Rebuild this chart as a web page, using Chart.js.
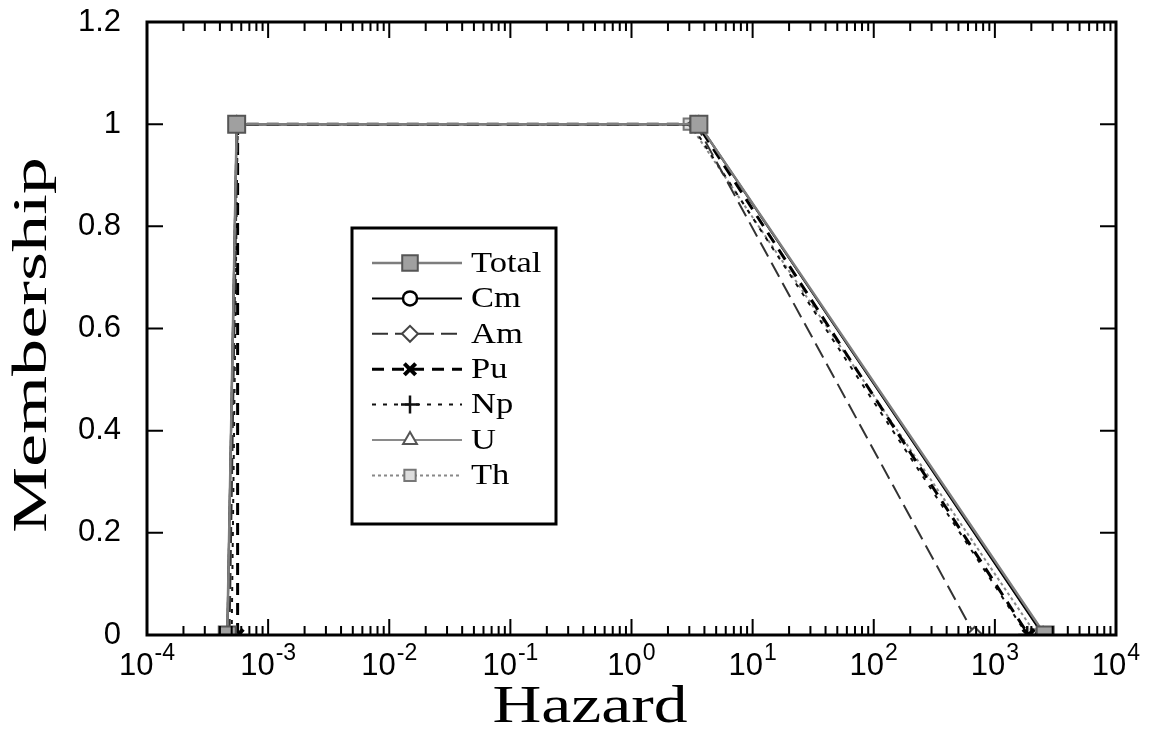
<!DOCTYPE html>
<html>
<head>
<meta charset="utf-8">
<title>Membership vs Hazard</title>
<script src="https://cdn.jsdelivr.net/npm/chart.js@4/dist/chart.umd.min.js"></script>
<style>
  html, body { margin: 0; padding: 0; background: #fff; }
  #wrap { width: 1154px; height: 743px; position: relative; }
</style>
</head>
<body>
<div id="wrap"><canvas id="hazardChart" width="1154" height="743"></canvas></div>
<script>
// dữ liệu (x = Hazard, y = Membership)
const seriesNames = ['Total', 'Cm', 'Am', 'Pu', 'Np', 'U', 'Th'];
const membership = [0, 1, 1, 0];

const totalHazard = [4.6e-4, 5.5e-4, 3.6, 2600];
const cmHazard    = [4.6e-4, 5.5e-4, 3.6, 2500];
const amHazard    = [4.8e-4, 5.6e-4, 3.4, 680];
const puHazard    = [5.6e-4, 5.6e-4, 3.5, 1900];
const npHazard    = [5.0e-4, 5.6e-4, 3.1, 1850];
const uHazard     = [4.6e-4, 5.5e-4, 3.6, 2500];
const thHazard    = [4.6e-4, 5.5e-4, 3.0, 2200];

const xDecades = [-4, -3, -2, -1, 0, 1, 2, 3, 4];   // nhãn trục X 10^n
const yTicks = [0, 0.2, 0.4, 0.6, 0.8, 1, 1.2];

function toPoints(xs, ys) {
    return xs.map((x, i) => ({ x: x, y: ys[i] }));
}

// kiểu vẽ của từng chuỗi
const styles = {
    Total: { color: '#7d7d7d', width: 2.5, dash: [],      point: 'rect',     radius: 12, fill: '#a0a0a0', pointBorder: '#555', pbw: 2 },
    Cm:    { color: '#000',    width: 2,   dash: [],      point: 'circle',   radius: 7,  fill: '#fff',    pointBorder: '#000', pbw: 2.5 },
    Am:    { color: '#333',    width: 2,   dash: [16, 7], point: 'rectRot',  radius: 8,  fill: '#fff',    pointBorder: '#444', pbw: 2 },
    Pu:    { color: '#000',    width: 3,   dash: [12, 8], point: 'crossRot', radius: 8,  fill: '#000',    pointBorder: '#000', pbw: 4 },
    Np:    { color: '#111',    width: 2,   dash: [4, 7],  point: 'cross',    radius: 9,  fill: '#000',    pointBorder: '#111', pbw: 2.5 },
    U:     { color: '#8a8a8a', width: 2,   dash: [],      point: 'triangle', radius: 8,  fill: '#fff',    pointBorder: '#555', pbw: 2 },
    Th:    { color: '#888',    width: 2,   dash: [3, 3],  point: 'rect',     radius: 8,  fill: '#ddd',    pointBorder: '#777', pbw: 2 }
};

const hazardBySeries = {
    Total: totalHazard, Cm: cmHazard, Am: amHazard, Pu: puHazard,
    Np: npHazard, U: uHazard, Th: thHazard
};

const datasets = seriesNames.map(name => {
    const s = styles[name];
    return {
        label: name,
        data: toPoints(hazardBySeries[name], membership),
        showLine: true,
        borderColor: s.color,
        borderWidth: s.width,
        borderDash: s.dash,
        pointStyle: s.point,
        pointRadius: s.radius,
        pointHoverRadius: s.radius,
        pointBackgroundColor: s.fill,
        pointBorderColor: s.pointBorder,
        pointBorderWidth: s.pbw,
        tension: 0
    };
});

// chữ số mũ dạng nhỏ
function drawPower(ctx, px, baselineY, exp) {
    const base = '10';
    const sup = exp < 0 ? '-' + Math.abs(exp) : String(exp);
    ctx.font = '31px "Liberation Sans", Arial, sans-serif';
    const wb = ctx.measureText(base).width;
    ctx.font = '23px "Liberation Sans", Arial, sans-serif';
    const ws = ctx.measureText(sup).width;
    const start = px - (wb + ws + 1) / 2;
    ctx.textAlign = 'left';
    ctx.textBaseline = 'alphabetic';
    ctx.font = '31px "Liberation Sans", Arial, sans-serif';
    ctx.fillText(base, start, baselineY);
    ctx.font = '23px "Liberation Sans", Arial, sans-serif';
    ctx.fillText(sup, start + wb + 1, baselineY - 15);
}

// khung, vạch chia hướng vào trong, nhãn trục X, tiêu đề, chú giải
const framePlugin = {
    id: 'framePlugin',
    afterDraw(chart) {
        const ctx = chart.ctx;
        const { left, right, top, bottom } = chart.chartArea;
        const xs = chart.scales.x;
        const ys = chart.scales.y;
        ctx.save();
        ctx.strokeStyle = '#000';
        ctx.fillStyle = '#000';
        ctx.setLineDash([]);

        // vạch chia trục X (log): chính + phụ
        ctx.lineWidth = 2;
        xDecades.forEach(e => {
            for (let m = 1; m <= 9; m++) {
                if (e === 4 && m > 1) break;
                const v = m * Math.pow(10, e);
                const px = xs.getPixelForValue(v);
                const len = m === 1 ? 16 : 9;
                ctx.beginPath();
                ctx.moveTo(px, bottom); ctx.lineTo(px, bottom - len);
                ctx.moveTo(px, top); ctx.lineTo(px, top + len);
                ctx.stroke();
            }
        });

        // vạch chia trục Y hai bên
        yTicks.forEach(v => {
            const py = ys.getPixelForValue(v);
            ctx.beginPath();
            ctx.moveTo(left, py); ctx.lineTo(left + 16, py);
            ctx.moveTo(right, py); ctx.lineTo(right - 16, py);
            ctx.stroke();
        });

        // khung
        ctx.lineWidth = 3;
        ctx.strokeRect(left, top, right - left, bottom - top);

        // nhãn trục X
        xDecades.forEach(e => {
            drawPower(ctx, xs.getPixelForValue(Math.pow(10, e)), 675, e);
        });

        // tiêu đề trục
        ctx.font = '52px "Liberation Serif", "Times New Roman", serif';
        ctx.textAlign = 'center';
        ctx.textBaseline = 'alphabetic';
        ctx.save();
        ctx.translate(590, 722);
        ctx.scale(1.3, 1);
        ctx.fillText('Hazard', 0, 0);
        ctx.restore();

        ctx.save();
        ctx.translate(46, 345);
        ctx.rotate(-Math.PI / 2);
        ctx.font = '48px "Liberation Serif", "Times New Roman", serif';
        ctx.scale(1.55, 1);
        ctx.fillText('Membership', 0, 0);
        ctx.restore();

        // chú giải
        const box = { x: 352, y: 228, w: 204, h: 296 };
        ctx.fillStyle = '#fff';
        ctx.fillRect(box.x, box.y, box.w, box.h);
        ctx.lineWidth = 3;
        ctx.strokeStyle = '#000';
        ctx.strokeRect(box.x, box.y, box.w, box.h);
        seriesNames.forEach((name, i) => {
            const s = styles[name];
            const cy = 263 + i * 35.4;
            ctx.save();
            ctx.strokeStyle = s.color;
            ctx.lineWidth = s.width;
            ctx.setLineDash(s.dash);
            ctx.beginPath();
            ctx.moveTo(372, cy); ctx.lineTo(462, cy);
            ctx.stroke();
            ctx.setLineDash([]);
            ctx.fillStyle = s.fill;
            ctx.strokeStyle = s.pointBorder;
            ctx.lineWidth = s.pbw;
            Chart.helpers.drawPoint(ctx, {
                pointStyle: s.point, radius: Math.min(s.radius, 11), rotation: 0, borderWidth: s.pbw
            }, 410, cy);
            ctx.restore();

            ctx.save();
            ctx.fillStyle = '#000';
            ctx.font = '30px "Liberation Serif", "Times New Roman", serif';
            ctx.textAlign = 'left';
            ctx.textBaseline = 'middle';
            ctx.translate(471, cy + 1);
            ctx.scale(1.15, 1);
            ctx.fillText(name, 0, 0);
            ctx.restore();
        });
        ctx.restore();
    }
};

const canvasElement = document.getElementById('hazardChart');
const ctx = canvasElement.getContext('2d');

new Chart(ctx, {
    type: 'scatter',
    data: { datasets: datasets },
    options: {
        responsive: false,
        animation: false,
        layout: { padding: { left: 0, right: 38, top: 22, bottom: 0 } },
        plugins: {
            legend: { display: false },
            tooltip: { enabled: false }
        },
        scales: {
            x: {
                type: 'logarithmic',
                min: 1e-4,
                max: 1e4,
                grid: { display: false, drawTicks: false },
                border: { display: false },
                ticks: { display: false },
                afterFit(scale) { scale.height = 108; }
            },
            y: {
                type: 'linear',
                min: 0,
                max: 1.2,
                grid: { display: false, drawTicks: false },
                border: { display: false },
                ticks: {
                    stepSize: 0.2,
                    padding: 26,
                    color: '#000',
                    font: { family: '"Liberation Sans", Arial, sans-serif', size: 31 },
                    callback: v => String(Math.round(v * 10) / 10)
                },
                afterFit(scale) {
                    scale.width = 147;
                    // bỏ phần đệm thêm phía trên do nhãn 1.2
                    scale.paddingTop = 0;
                    scale.paddingBottom = 0;
                }
            }
        }
    },
    plugins: [framePlugin]
});
</script>
</body>
</html>
